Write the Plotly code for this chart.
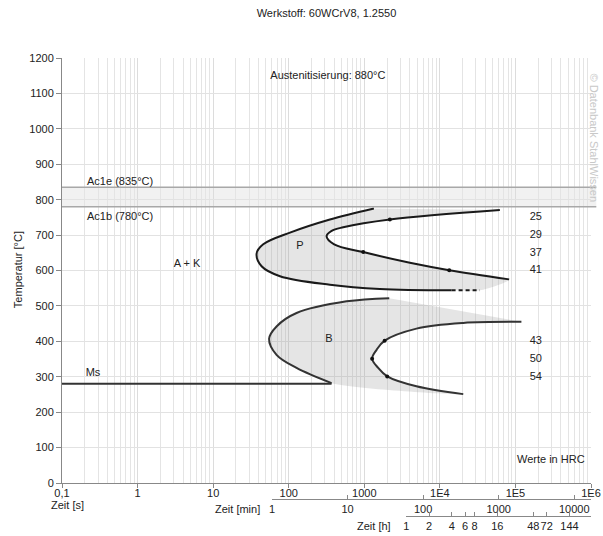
import numpy as np
import plotly.graph_objects as go

# ---------------- data ----------------
# Pearlite start (outer curve), time [s], temperature [°C]
pearl_start_t = [1340, 351, 104, 46, 37.6, 43.8, 76.6, 351, 1607, 14300]
pearl_start_T = [775, 744, 707, 674, 648, 612, 584, 560, 548, 544]
pearl_dash_t = [14300, 33800]
pearl_dash_T = [544, 544]
# Pearlite finish (inner curve)
pearl_end_t = [62200, 2180, 526, 370, 317, 400, 968, 4010, 13300, 82600]
pearl_end_T = [771, 744, 722, 712, 697, 674, 652, 622, 601, 575]
pearl_dot_t = [2180, 968, 13300]
pearl_dot_T = [744, 652, 601]

# Bainite start (outer curve)
bain_start_t = [2140, 583, 127, 69, 55, 69, 127, 369]
bain_start_T = [522, 513, 480, 442, 407, 362, 325, 282]
# Bainite finish (inner curve)
bain_end_t = [120000, 20400, 4900, 1860, 1455, 1270, 1528, 2010, 4900, 20400]
bain_end_T = [455, 452, 436, 402, 376, 351, 325, 301, 273, 251]
bain_dot_t = [1860, 1270, 2010]
bain_dot_T = [402, 351, 301]

# Ms line
ms_t = [0.1, 369]
ms_T = [280, 280]

# Ac1 temperatures
ac1b = 780
ac1e = 835

# Hardness values (HRC) and their temperatures
hrc_vals = ["25", "29", "37", "41", "43", "50", "54"]
hrc_T = [750, 700, 650, 600, 400, 350, 300]
hrc_t = 186000

# Axis ticks
sec_ticks = [0.1, 1, 10, 100, 1000, 1e4, 1e5, 1e6]
sec_text = ["0,1", "1", "10", "100", "1000", "1E4", "1E5", "1E6"]
min_ticks = [1, 10, 100, 1000, 10000]
min_text = ["1", "10", "100", "1000", "10000"]
h_ticks = [1, 2, 4, 6, 8, 16, 48, 72, 144]
h_text = ["1", "2", "4", "6", "8", "16", "48", "72", "144"]
temp_ticks = list(range(0, 1300, 100))

# ---------------- figure ----------------
FONT = "Liberation Sans, Arial, sans-serif"
TXT = "#222222"
LINE = "#1a1a1a"
FILL = "rgba(150,150,150,0.25)"

fig = go.Figure()

# fills
fig.add_trace(go.Scatter(
    x=pearl_start_t + [pearl_dash_t[-1]] + pearl_end_t[::-1],
    y=pearl_start_T + [pearl_dash_T[-1]] + pearl_end_T[::-1],
    fill="toself", fillcolor=FILL, mode="lines", line=dict(width=0, shape="spline", smoothing=0.8),
    hoverinfo="skip", showlegend=False))
fig.add_trace(go.Scatter(
    x=bain_start_t + bain_end_t[::-1],
    y=bain_start_T + bain_end_T[::-1],
    fill="toself", fillcolor=FILL, mode="lines", line=dict(width=0, shape="spline", smoothing=0.8),
    hoverinfo="skip", showlegend=False))

# curves
for xs, ys, col in [(pearl_start_t, pearl_start_T, LINE), (pearl_end_t, pearl_end_T, LINE),
                    (bain_start_t, bain_start_T, "#333333"), (bain_end_t, bain_end_T, "#333333")]:
    fig.add_trace(go.Scatter(x=xs, y=ys, mode="lines",
                             line=dict(color=col, width=2, shape="spline", smoothing=1.0),
                             hoverinfo="skip", showlegend=False))
fig.add_trace(go.Scatter(x=pearl_dash_t, y=pearl_dash_T, mode="lines",
                         line=dict(color=LINE, width=2, dash="4px,3px"), hoverinfo="skip", showlegend=False))
fig.add_trace(go.Scatter(x=ms_t, y=ms_T, mode="lines", line=dict(color="#333333", width=2),
                         hoverinfo="skip", showlegend=False))
fig.add_trace(go.Scatter(x=pearl_dot_t + bain_dot_t, y=pearl_dot_T + bain_dot_T, mode="markers",
                         marker=dict(color="#111111", size=4), hoverinfo="skip", showlegend=False))

# hardness labels
fig.add_trace(go.Scatter(x=[hrc_t] * len(hrc_vals), y=hrc_T, mode="text", text=hrc_vals,
                         textfont=dict(family=FONT, size=11, color=TXT), hoverinfo="skip", showlegend=False))

# region labels
lab_x = [141, 340, 4.5, 0.257, 330, 294000]
lab_y = [668, 405, 617, 309, 1149, 65]
lab_txt = ["P", "B", "A + K", "Ms", "Austenitisierung: 880°C", "Werte in HRC"]
fig.add_trace(go.Scatter(x=lab_x, y=lab_y, mode="text", text=lab_txt,
                         textfont=dict(family=FONT, size=11, color=TXT), hoverinfo="skip", showlegend=False))

# dummy traces for secondary time axes (own tiny subplots)
fig.add_trace(go.Scatter(x=[1], y=[0.5], xaxis="x2", yaxis="y2", mode="markers",
                         marker=dict(opacity=0), hoverinfo="skip", showlegend=False))
fig.add_trace(go.Scatter(x=[1], y=[0.5], xaxis="x3", yaxis="y3", mode="markers",
                         marker=dict(opacity=0), hoverinfo="skip", showlegend=False))

# Ac1 band
fig.add_shape(type="rect", xref="paper", yref="y", x0=0, x1=1.01, y0=ac1b, y1=ac1e,
              fillcolor="rgba(200,200,200,0.25)", line=dict(width=0), layer="below")
for v in (ac1b, ac1e):
    fig.add_shape(type="line", xref="paper", yref="y", x0=0, x1=1.01, y0=v, y1=v,
                  line=dict(color="#a8a8a8", width=1.5))

ann = dict(font=dict(family=FONT, size=11, color=TXT), showarrow=False)
fig.add_annotation(x=np.log10(0.2), y=ac1e + 17, xref="x", yref="y", text="Ac1e (835°C)", xanchor="left", **ann)
fig.add_annotation(x=np.log10(0.2), y=ac1b - 27, xref="x", yref="y", text="Ac1b (780°C)", xanchor="left", **ann)

# axis titles as annotations
fig.add_annotation(x=-0.083, y=0.537, xref="paper", yref="paper", text="Temperatur [°C]", textangle=-90,
                   xanchor="center", yanchor="middle", **ann)
fig.add_annotation(x=0.011, y=0.024, xref="paper", yref="paper", text="Zeit [s]",
                   xanchor="center", yanchor="middle", **ann)
fig.add_annotation(x=0.378, y=0.0153, xref="paper", yref="paper", text="Zeit [min]",
                   xanchor="right", yanchor="middle", **ann)
fig.add_annotation(x=0.626, y=-0.021, xref="paper", yref="paper", text="Zeit [h]",
                   xanchor="right", yanchor="middle", **ann)
fig.add_annotation(x=1.005, y=0.825, xref="paper", yref="paper", text="© Datenbank StahlWissen",
                   textangle=90, xanchor="center", yanchor="middle",
                   font=dict(family=FONT, size=11, color="#c8c8c8"), showarrow=False)

minor_vals = [m * 10.0 ** e for e in range(-1, 6) for m in range(2, 10)]

Y0 = 0.072
P2 = 0.0365
common_ax = dict(ticks="inside", ticklen=4, tickcolor="#888888", tickangle=0, ticklabeloverflow="allow",
                 showline=True, linecolor="#888888", linewidth=1, showgrid=False, zeroline=False,
                 automargin=False, tickfont=dict(family=FONT, size=11, color=TXT))
hidden_y = dict(visible=False, range=[0, 1], fixedrange=True, automargin=False)

fig.update_layout(
    width=603, height=536,
    margin=dict(l=62, r=12, t=58, b=20, autoexpand=False),
    paper_bgcolor="white", plot_bgcolor="rgba(0,0,0,0)",
    template="none",
    font=dict(family=FONT, size=11, color=TXT),
    title=dict(text="Werkstoff: 60WCrV8, 1.2550", x=0.5, xref="paper", xanchor="center",
               y=1 - 13 / 536, yref="container", yanchor="middle",
               font=dict(family=FONT, size=11, color=TXT)),
    showlegend=False,
    xaxis=dict(type="log", range=[-1, 6], domain=[0, 1], anchor="y",
               tickvals=sec_ticks, ticktext=sec_text, ticks="outside", ticklen=4, tickangle=0,
               ticklabelstandoff=-4, ticklabeloverflow="allow",
               tickcolor="#888888", showline=True, linecolor="#888888", linewidth=1,
               showgrid=True, gridcolor="#dcdcdc", gridwidth=1, zeroline=False,
               minor=dict(tickvals=minor_vals, showgrid=True, gridcolor="#e4e4e4", ticks=""),
               automargin=False, tickfont=dict(family=FONT, size=11, color=TXT)),
    xaxis2=dict(type="log", range=[0, np.log10(1e6 / 60)], domain=[(np.log10(60) + 1) / 7, 1],
                anchor="y2", tickvals=min_ticks, ticktext=min_text, **common_ax),
    xaxis3=dict(type="log", range=[0, np.log10(1e6 / 3600)], domain=[(np.log10(3600) + 1) / 7, 1],
                anchor="y3", tickvals=h_ticks, ticktext=h_text, **common_ax),
    yaxis=dict(range=[0, 1200], domain=[Y0, 1], anchor="x", tickvals=temp_ticks,
               ticks="outside", ticklen=5, tickcolor="#888888", showline=True, linecolor="#888888",
               linewidth=1, showgrid=True, gridcolor="#e2e2e2", zeroline=False, automargin=False,
               tickfont=dict(family=FONT, size=11, color=TXT)),
    yaxis2=dict(domain=[P2, P2 + 0.01], anchor="x2", **hidden_y),
    yaxis3=dict(domain=[0.0, 0.01], anchor="x3", **hidden_y),
)

# remove the default 8px page margin so the figure fills the window exactly
fig.write_html("out.html", config={"displayModeBar": False, "staticPlot": True},
               post_script="document.body.style.margin='0';document.body.style.overflow='hidden';")
